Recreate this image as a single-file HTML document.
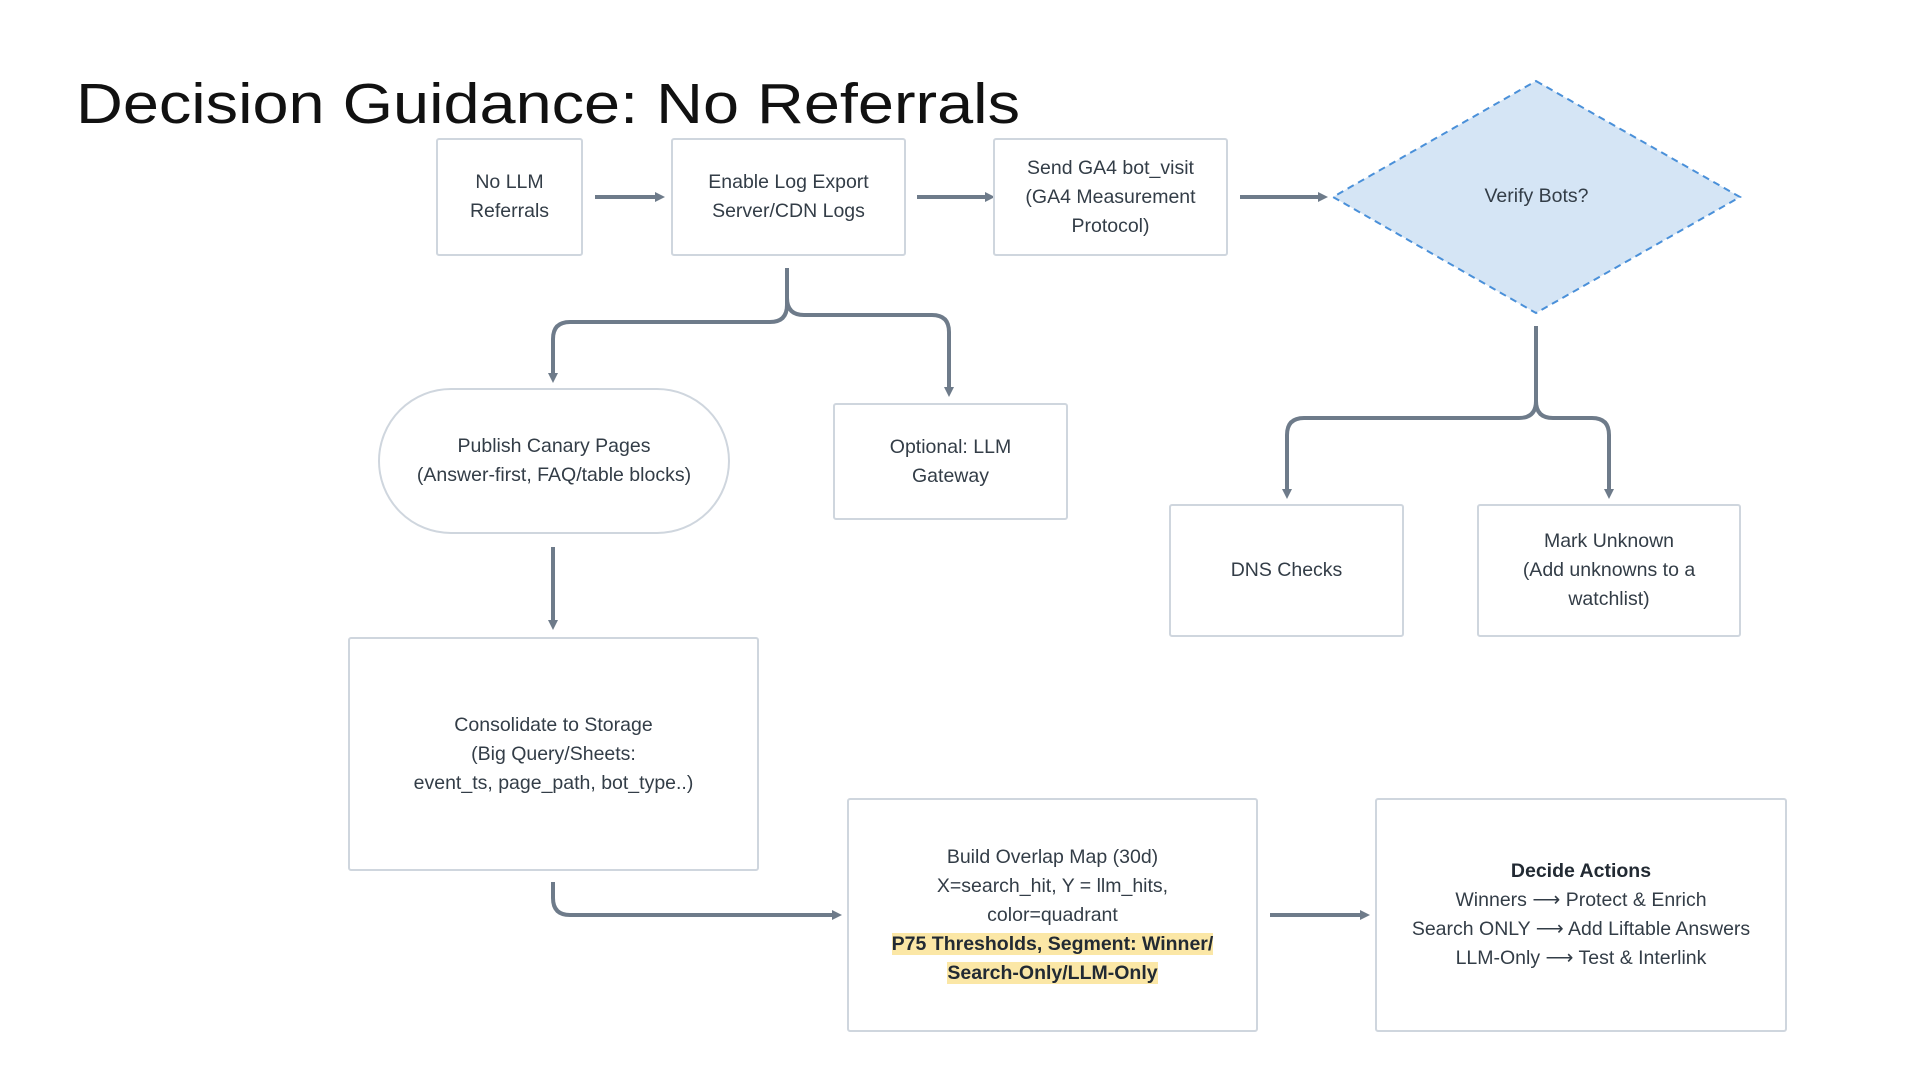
<!DOCTYPE html>
<html><head><meta charset="utf-8"><style>
html,body{margin:0;padding:0;background:#fff;}
body{width:1920px;height:1080px;position:relative;overflow:hidden;font-family:"Liberation Sans",sans-serif;}
.b{position:absolute;box-sizing:border-box;border:2px solid #cfd6de;border-radius:3px;display:flex;align-items:center;justify-content:center;text-align:center;color:#333d47;font-size:19.5px;line-height:29px;background:#fff;}
.hl{background:#fbe7a6;font-weight:bold;color:#222a33;}
</style></head><body>
<svg width="1920" height="1080" style="position:absolute;left:0;top:0">
<defs><marker id="a" markerWidth="10" markerHeight="10" refX="5" refY="5" orient="auto" markerUnits="userSpaceOnUse"><path d="M0,0 L10,5 L0,10 z" fill="#6e7b8a"/></marker></defs>
<text x="76" y="123" font-family="Liberation Sans, sans-serif" font-size="57" fill="#111" textLength="944" lengthAdjust="spacingAndGlyphs">Decision Guidance: No Referrals</text>
<polygon points="1536,81 1740,197 1536,313 1333,197" fill="#d5e5f5" stroke="#4a90d9" stroke-width="2" stroke-dasharray="7,5"/>
<g stroke="#6e7b8a" stroke-width="4" fill="none" marker-end="url(#a)">
<line x1="595" y1="197" x2="660" y2="197"/>
<line x1="917" y1="197" x2="990" y2="197"/>
<line x1="1240" y1="197" x2="1323" y2="197"/>
<path d="M787,268 V305 Q787,322 770,322 H570 Q553,322 553,339 V378"/>
<path d="M787,268 V298 Q787,315 804,315 H932 Q949,315 949,332 V392"/>
<line x1="553" y1="547" x2="553" y2="625"/>
<path d="M1536,326 V401 Q1536,418 1519,418 H1304 Q1287,418 1287,435 V494"/>
<path d="M1536,326 V401 Q1536,418 1553,418 H1592 Q1609,418 1609,435 V494"/>
<path d="M553,882 V898 Q553,915 570,915 H837"/>
<line x1="1270" y1="915" x2="1365" y2="915"/>
</g>
</svg>
<div class="b" style="left:436px;top:138px;width:147px;height:118px">No LLM<br>Referrals</div>
<div class="b" style="left:671px;top:138px;width:235px;height:118px">Enable Log Export<br>Server/CDN Logs</div>
<div class="b" style="left:993px;top:138px;width:235px;height:118px">Send GA4 bot_visit<br>(GA4 Measurement<br>Protocol)</div>
<div style="position:absolute;left:1333px;top:182px;width:407px;text-align:center;color:#333d47;font-size:19.5px;line-height:29px">Verify Bots?</div>
<div class="b" style="left:378px;top:388px;width:352px;height:146px;border-radius:73px">Publish Canary Pages<br>(Answer-first, FAQ/table blocks)</div>
<div class="b" style="left:833px;top:403px;width:235px;height:117px">Optional: LLM<br>Gateway</div>
<div class="b" style="left:1169px;top:504px;width:235px;height:133px">DNS Checks</div>
<div class="b" style="left:1477px;top:504px;width:264px;height:133px">Mark Unknown<br>(Add unknowns to a<br>watchlist)</div>
<div class="b" style="left:348px;top:637px;width:411px;height:234px">Consolidate to Storage<br>(Big Query/Sheets:<br>event_ts, page_path, bot_type..)</div>
<div class="b" style="left:847px;top:798px;width:411px;height:234px"><div>Build Overlap Map (30d)<br>X=search_hit, Y = llm_hits,<br>color=quadrant<br><span class="hl">P75 Thresholds, Segment: Winner/</span><br><span class="hl">Search-Only/LLM-Only</span></div></div>
<div class="b" style="left:1375px;top:798px;width:412px;height:234px"><div><b style="color:#222a33">Decide Actions</b><br>Winners ⟶ Protect &amp; Enrich<br>Search ONLY ⟶ Add Liftable Answers<br>LLM-Only ⟶ Test &amp; Interlink</div></div>
</body></html>
